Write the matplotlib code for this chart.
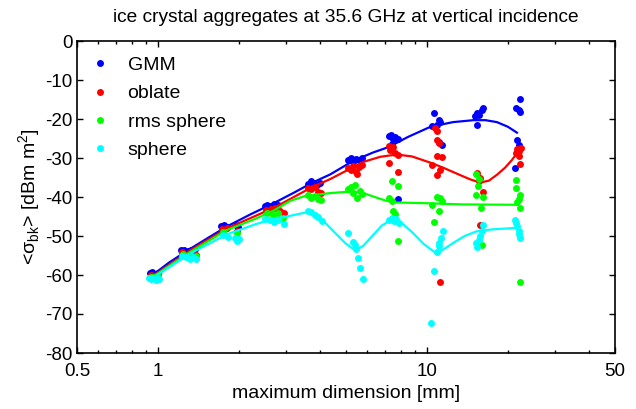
import matplotlib
matplotlib.use("Agg")
import matplotlib.pyplot as plt
from matplotlib.ticker import FixedLocator, NullFormatter

plt.rcParams["font.family"] = ["Liberation Sans", "DejaVu Sans"]
plt.rcParams["axes.unicode_minus"] = False
plt.rcParams["mathtext.fontset"] = "custom"
plt.rcParams["mathtext.rm"] = "Liberation Sans"

# scattered values, per shape model (x = max dimension [mm], y = <sigma_bk> [dB mm^2])
gmm_x = [0.935, 0.95, 0.97, 0.99, 1.0,
         1.22, 1.25, 1.29, 1.33, 1.37,
         1.72, 1.76, 1.80, 1.95, 1.98,
         2.5, 2.55, 2.62, 2.7, 2.8,
         3.6, 3.7, 3.8, 3.9, 4.0,
         5.1, 5.2, 5.3, 5.45, 5.6, 5.75,
         7.25, 7.35, 7.45, 7.6, 7.78, 7.4, 7.78,
         10.6, 11.13, 10.43, 10.89, 11.2, 11.05, 11.37,
         15.1, 15.3, 15.6, 16.0, 16.2, 15.3,
         22.2, 21.4, 22.1, 21.9, 21.7, 21.9, 21.2]
gmm_y = [-59.6, -59.3, -59.9, -60.2, -59.6,
         -53.7, -53.5, -53.8, -53.6, -53.4,
         -47.4, -47.2, -47.6, -47.3, -47.8,
         -42.3, -42.0, -42.4, -41.8, -42.1,
         -36.6, -36.0, -36.3, -36.8, -36.4,
         -30.5, -30.0, -30.9, -30.2, -30.6, -29.9,
         -24.4, -24.0, -25.0, -24.6, -25.2, -26.5, -40.6,
         -18.5, -20.2, -21.9, -21.5, -20.8, -25.8, -26.6,
         -19.2, -18.5, -19.0, -17.7, -17.3, -21.5,
         -14.9, -17.2, -18.1, -17.6, -25.4, -26.6, -32.6]

oblate_x = [0.94, 0.97, 1.0,
            1.23, 1.3, 1.38,
            1.73, 1.8, 1.96,
            2.52, 2.62, 2.72, 2.85, 2.95,
            3.62, 3.72, 3.85, 3.95, 4.05,
            5.1, 5.2, 5.3, 5.45, 5.6, 5.75, 5.5,
            7.2, 7.3, 7.45, 7.6, 7.8, 7.24, 7.78,
            10.75, 10.9, 10.89, 11.05, 10.89, 11.37, 10.43, 11.2, 10.89, 11.2,
            15.3, 15.8, 15.6, 16.2, 15.8,
            21.4, 21.7, 22.0, 22.3, 21.9, 22.2]
oblate_y = [-60.0, -60.3, -60.1,
            -54.2, -54.5, -54.8,
            -48.3, -48.0, -48.6,
            -43.3, -43.0, -42.8, -43.6, -44.2,
            -37.6, -38.0, -37.5, -38.6, -39.0,
            -32.5, -33.2, -32.0, -33.6, -32.4, -31.9, -34.0,
            -27.0, -28.0, -27.3, -28.6, -29.2, -31.3, -33.5,
            -22.3, -23.0, -25.4, -26.2, -29.6, -29.7, -31.9, -33.0, -34.3, -61.7,
            -33.9, -35.2, -36.0, -38.6, -47.1,
            -28.8, -27.6, -28.2, -27.4, -29.6, -31.5]

rms_x = [0.94, 0.97, 1.0,
         1.24, 1.32, 1.38,
         1.74, 1.97,
         2.55, 2.68, 2.8, 2.92,
         3.6, 3.7, 3.82, 3.95, 4.05,
         5.1, 5.2, 5.3, 5.4, 5.5, 5.65, 5.75,
         7.41, 7.78, 7.24, 7.4, 7.5, 7.6, 7.78,
         10.89, 11.2, 10.43, 11.37, 11.13, 10.66,
         15.2, 15.6, 15.5, 15.2, 16.2, 15.9, 16.0,
         21.4, 21.4, 22.1, 21.9, 21.6, 22.1, 22.2]
rms_y = [-60.4, -60.6, -60.3,
         -54.6, -54.9, -55.2,
         -49.0, -49.3,
         -44.0, -44.6, -44.2, -45.5,
         -39.6, -40.2, -39.8, -40.5, -40.8,
         -38.0, -37.5, -39.0, -36.9, -40.2, -38.4, -39.3,
         -36.0, -37.1, -40.2, -40.9, -43.7, -44.3, -51.4,
         -39.9, -40.3, -42.0, -41.0, -43.6, -46.3,
         -34.0, -35.4, -37.3, -39.5, -40.1, -42.9, -52.3,
         -35.6, -37.6, -39.5, -40.4, -41.4, -42.9, -61.9]

sphere_x = [0.93, 0.945, 0.96, 0.98, 1.0, 1.01,
            1.23, 1.27, 1.31, 1.35, 1.39,
            1.75, 1.82, 1.94, 1.97, 2.0,
            2.5, 2.6, 2.7, 2.8, 2.95,
            3.6, 3.7, 3.82, 3.95, 4.08,
            5.1, 5.3, 5.38, 5.45, 5.53, 5.64, 5.76,
            7.25, 7.4, 7.55, 7.7, 7.85,
            11.46, 11.3, 11.13, 11.05, 10.89, 10.66, 10.38,
            16.2, 16.0, 15.8, 15.6, 15.2, 15.3,
            21.2, 21.4, 21.6, 21.9, 22.0, 22.2]
sphere_y = [-60.7, -61.1, -60.8, -61.2, -60.9, -61.0,
            -55.0, -55.4, -55.8, -55.5, -55.9,
            -49.8, -50.2, -50.4, -51.2, -50.8,
            -45.6, -46.0, -46.3, -45.8, -47.0,
            -43.6, -43.9, -44.5, -45.2, -46.2,
            -49.3, -51.6, -52.4, -53.4, -55.6, -58.2, -61.0,
            -45.8, -45.4, -46.2, -45.6, -46.6,
            -48.8, -50.5, -51.8, -52.6, -54.0, -59.1, -72.2,
            -47.1, -48.6, -50.0, -51.0, -51.8, -52.7,
            -45.9, -46.6, -47.4, -48.8, -49.6, -50.4]

# fitted curves
gmm_fit_x = [0.96, 1.1, 1.31, 1.55, 1.8, 2.2, 2.69, 3.2, 3.73, 4.37, 5.33, 6.3, 7.2,
             8.5, 10.3, 12.5, 14.9, 16.5, 18.2, 20.0, 21.6]
gmm_fit_y = [-59.9, -56.8, -53.4, -50.3, -47.6, -44.5, -41.6, -38.9, -36.4, -34.2, -30.7,
             -28.6, -27.2, -24.6, -22.0, -20.8, -20.3, -20.3, -20.8, -22.0, -23.5]
oblate_fit_x = [0.96, 1.31, 1.8, 2.69, 3.2, 3.73, 4.37, 5.0, 5.8, 6.7, 7.7, 8.8, 10.3,
                11.5, 12.9, 14.5, 15.8, 17.0, 18.2, 19.5, 20.7, 21.9]
oblate_fit_y = [-60.2, -53.8, -48.1, -42.8, -40.0, -37.5, -35.4, -33.3, -31.0, -29.7,
                -29.1, -29.6, -31.2, -32.5, -34.0, -35.5, -36.3, -35.8, -34.3, -32.5,
                -30.5, -28.2]
rms_fit_x = [0.96, 1.31, 1.8, 2.3, 2.69, 3.1, 3.5, 4.37, 5.2, 5.8, 6.33, 7.0, 7.6,
             10.0, 13.5, 21.6]
rms_fit_y = [-60.4, -54.2, -48.5, -45.6, -43.5, -41.0, -39.8, -39.0, -38.6, -39.0,
             -39.9, -40.9, -41.4, -41.6, -41.9, -42.0]
sphere_fit_x = [0.96, 1.31, 1.8, 2.3, 2.69, 3.02, 3.63, 4.1, 4.6, 5.0, 5.41, 5.8, 6.3,
                6.8, 7.41, 8.0, 8.8, 9.7, 10.8, 11.6, 12.5, 13.8, 15.3, 17.5, 21.6]
sphere_fit_y = [-60.7, -54.6, -49.6, -47.0, -45.6, -45.0, -43.8, -46.0, -49.5, -52.0,
                -53.7, -52.5, -49.8, -47.3, -45.8, -46.5, -49.0, -52.0, -54.4, -53.3,
                -51.8, -50.0, -48.8, -48.3, -47.9]

series = [
    ("GMM", gmm_x, gmm_y, gmm_fit_x, gmm_fit_y, (0, 0, 1)),
    ("oblate", oblate_x, oblate_y, oblate_fit_x, oblate_fit_y, (1, 0, 0)),
    ("rms sphere", rms_x, rms_y, rms_fit_x, rms_fit_y, (0, 1, 0)),
    ("sphere", sphere_x, sphere_y, sphere_fit_x, sphere_fit_y, (0, 1, 1)),
]

fig = plt.figure(figsize=(6.36, 4.09), dpi=100)
ax = fig.add_axes([77 / 636, 56 / 409, 538 / 636, 312 / 409])

for name, x, y, fx, fy, col in series:
    ax.plot(x, y, "o", color=col, markersize=5, markeredgewidth=0, label=name)
    ax.plot(fx, fy, "-", color=col, linewidth=1.6)

ax.set_xscale("log")
ax.set_xlim(0.5, 50)
ax.set_ylim(-80, 0)
ax.xaxis.set_major_locator(FixedLocator([0.5, 1, 10, 50]))
ax.set_xticklabels(["0.5", "1", "10", "50"])
minors = [0.6, 0.7, 0.8, 0.9, 2, 3, 4, 5, 6, 7, 8, 9, 20, 30, 40]
ax.xaxis.set_minor_locator(FixedLocator(minors))
ax.xaxis.set_minor_formatter(NullFormatter())
ax.set_yticks(range(-80, 1, 10))
ax.set_yticklabels([str(v) for v in range(-80, 1, 10)])

ax.tick_params(which="both", direction="in", top=True, right=True, labelsize=13.5, width=1)
ax.tick_params(which="major", length=4.5, pad=3)
ax.tick_params(axis="x", which="major", pad=7)
ax.tick_params(which="minor", length=2.5)
for s in ax.spines.values():
    s.set_linewidth(1.2)

ax.set_title("ice crystal aggregates at 35.6 GHz at vertical incidence", fontsize=13.8, pad=14)
ax.set_xlabel("maximum dimension [mm]", fontsize=14, labelpad=4)
ax.set_ylabel("<σ$_{\\mathregular{bk}}$> [dBm m$^{\\mathregular{2}}$]", fontsize=14, labelpad=2)

ax.legend(loc="upper left", frameon=False, fontsize=14, handlelength=0.8, handletextpad=1.0,
          labelspacing=0.55, borderaxespad=0.4, markerscale=1.0)

fig.savefig("out.png", dpi=100)
